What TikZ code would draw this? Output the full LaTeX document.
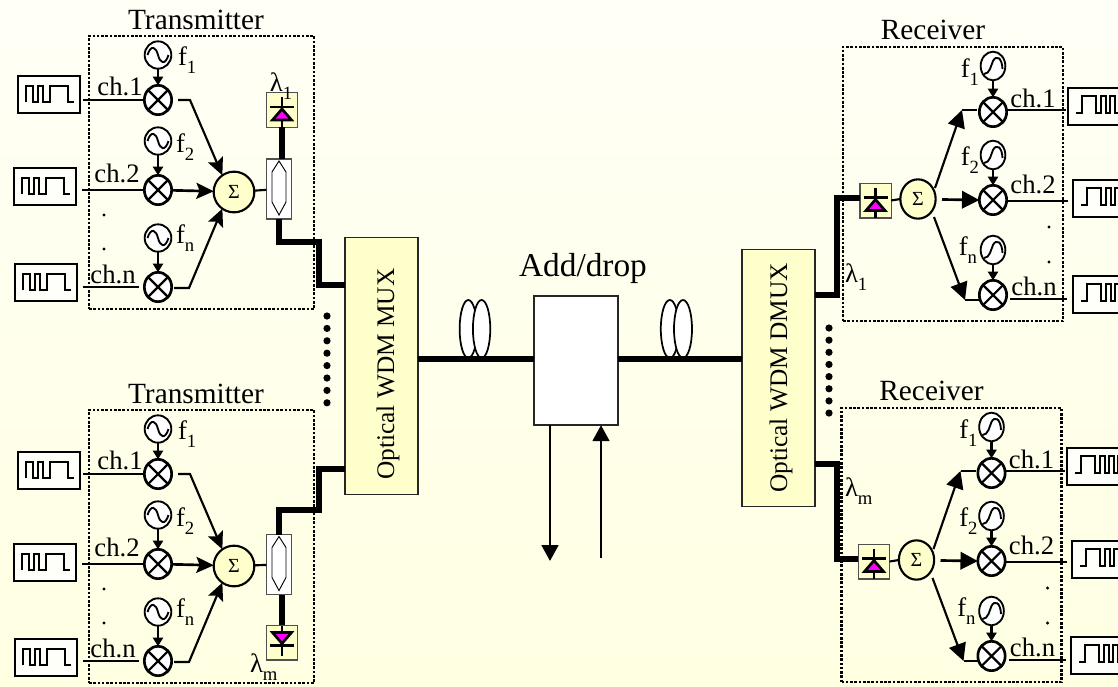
\documentclass[tikz,border=0pt]{standalone}
\usepackage{fontspec}
\setmainfont{Liberation Serif}
\usetikzlibrary{arrows.meta,shapes.geometric}
\definecolor{boxy}{HTML}{FFFFCC}
\definecolor{bgtop}{HTML}{FFFFF6}
\definecolor{bgbot}{HTML}{FFFFE2}
\definecolor{framegray}{HTML}{505050}
\definecolor{magi}{HTML}{FF00FF}
\newcommand\lowtxt[1]{\raisebox{-0.3em}{\fontsize{14}{15}\selectfont #1}}
\newcommand\pxfont[1]{\fontsize{#1}{#1}\selectfont}
\tikzset{
  x=0.75pt,y=-0.75pt,
  every node/.style={inner sep=0pt,outer sep=0pt},
  dotbox/.style={draw=black,line width=2pt,dash pattern=on 2pt off 1.2pt,fill=none},
  pulsebox/.style={draw=black,line width=1.3pt,fill=white!40!bgtop,anchor=north west,minimum width=46.5pt,minimum height=27.75pt},
  wave/.style={draw=black,line width=1.9pt,line join=miter},
  mixer/.style={ellipse,draw=black,line width=2pt,fill=white,minimum width=20.5pt,minimum height=22pt},
  crossl/.style={draw=black,line width=1.6pt},
  osc/.style={ellipse,draw=black,line width=1.4pt,fill=white,minimum width=20pt,minimum height=20.5pt},
  sumc/.style={circle,draw=black,line width=1.6pt,fill=boxy,minimum size=30.5pt,font=\pxfont{15}},
  sig/.style={draw=black,line width=2pt},
  sigthin/.style={draw=black,line width=1.6pt},
  fat/.style={draw=black,line width=3.8pt,line join=miter},
  bigarrow/.style={-{Stealth[length=13pt,width=12pt,inset=2.5pt]}},
  recarrow/.style={-{Triangle[length=13pt,width=13pt]}},
  smallarrow/.style={-{Triangle[length=6.5pt,width=7.5pt]}},
  ldbox/.style={draw=framegray,line width=1pt,fill=boxy,minimum width=23.5pt,minimum height=26pt},
  cplbox/.style={draw=framegray,line width=.9pt,fill=white,minimum width=19pt,minimum height=45pt},
  bar/.style={draw=black,line width=1.9pt},
  tri/.style={draw=black,line width=2pt,fill=magi,line join=miter},
  wdm/.style={draw=black!85,line width=1.2pt,fill=boxy,minimum width=54.5pt,minimum height=192.5pt},
  wdmtext/.style={font=\pxfont{19},rotate=90},
  title/.style={font=\pxfont{22}},
  lab/.style={font=\pxfont{20},anchor=base},
  labl/.style={font=\pxfont{20},anchor=base west},
  labr/.style={font=\pxfont{20},anchor=base east},
  dotn/.style={circle,fill=black,minimum size=5.4pt},
  dotm/.style={circle,fill=black,minimum size=2.6pt},
  coil/.style={ellipse,draw=black,line width=1.3pt,fill=white,minimum height=43.5pt},
}
% left pulse source
\newcommand\lpulse[3]{%
  \node[pulsebox] (#1) at (#2,#3) {};
  \draw[wave,shift={(#2,#3)}] (8,26) -- (8,10) -- (15,10) -- (15,26) -- (20,26) -- (20,10) -- (25,10) -- (25,26) -- (32,26) -- (32,10) -- (50,10) -- (50,26) -- (56,26);
}
% right pulse source
\newcommand\rpulse[3]{%
  \node[pulsebox,minimum width=60pt] (#1) at (#2,#3) {};
  \draw[wave,shift={(#2,#3)}] (8,25) -- (14,25) -- (14,8) -- (28,8) -- (28,25) -- (33,25) -- (33,8) -- (38,8) -- (38,25) -- (42,25) -- (42,8) -- (47,8) -- (47,25) -- (51,25) -- (51,8) -- (56,8);
}
\newcommand\mixernode[3]{%
  \node[mixer] (#1) at (#2,#3) {};
  \draw[crossl] (#1.45) -- (#1.225) (#1.135) -- (#1.315);
}
% transmitter oscillator: sine
\newcommand\oscT[3]{%
  \node[osc] (#1) at (#2,#3) {};
  \draw[line width=1.4pt,shift={(#2,#3)}] (-10.5,0) .. controls (-7,-11) and (-2,-8) .. (0,0) .. controls (2,8) and (7,11) .. (10.5,0);
}
% receiver oscillator: rising wave
\newcommand\oscR[3]{%
  \node[osc,minimum width=18.5pt,minimum height=21.5pt] (#1) at (#2,#3) {};
  \draw[line width=1.4pt,shift={(#2,#3)}] (-9,8) .. controls (-3,8) and (-2,-1) .. (0,-5) .. controls (3,-11) and (9,-9) .. (9.5,3);
}
% diode with triangle up (#4=1) or down (#4=-1); x,y = centre
\newcommand\diode[4]{%
  \node[ldbox] (#1) at (#2,#3) {};
  \begin{scope}[shift={(#2,#3)},yscale=#4]
    \draw[bar] (0,-13) -- (0,17);
    \draw[bar] (-12,-3) -- (12,-3);
    \draw[tri] (0,-1) -- (9.5,10) -- (-9.5,10) -- cycle;
  \end{scope}
}
\newcommand\coupler[3]{%
  \node[cplbox] (#1) at (#2,#3) {};
  \draw[line width=.7pt,fill=white,shift={(#2,#3)}] (0,-28) -- (7,-17) -- (7,13) -- (0,26) -- (-7,13) -- (-7,-17) -- cycle;
}
% #1 prefix, #2 y offset
\newcommand\transmitter[2]{%
\begin{scope}[shift={(0,#2)}]
  \node[dotbox,minimum width=168.75pt,minimum height=204.75pt,anchor=north west] (#1frame) at (89,36) {};
  \node[title] (#1title) at (196,20) {Transmitter};
  \mixernode{#1m1}{158}{100}
  \mixernode{#1m2}{158}{190}
  \mixernode{#1m3}{158}{287}
  \oscT{#1o1}{158}{55}
  \oscT{#1o2}{158}{141}
  \oscT{#1o3}{158}{238}
  \draw[sigthin,smallarrow] (#1o1) -- (#1m1);
  \draw[sigthin,smallarrow] (#1o2) -- (#1m2);
  \draw[sigthin,smallarrow] (#1o3) -- (#1m3);
  \node[labl] (#1f1) at (178,65) {f\lowtxt{1}};
  \node[labl] (#1f2) at (176,152) {f\lowtxt{2}};
  \node[labl] (#1f3) at (176,243) {f\lowtxt{n}};
  \node[lab] (#1c1) at (120,95) {ch.1};
  \node[lab] (#1c2) at (117,182) {ch.2};
  \node[lab] (#1c3) at (113,283) {ch.n};
  \node[sumc] (#1s) at (234,192) {Σ};
  \coordinate (#1k1) at (190,100);
  \coordinate (#1k3) at (189,288);
  \coordinate (#1i1) at (83,100);
  \coordinate (#1i2) at (82,190);
  \coordinate (#1i3) at (83,287);
  \draw[sig] (#1i1) -- (#1m1.west);
  \draw[sig] (#1i2) -- (#1m2.west);
  \draw[sig] (#1i3) -- (139,287);
  \draw[sigthin,bigarrow] (178,100) -- (#1k1) -- (#1s.125);
  \draw[sig,bigarrow] (#1m2) -- (#1s.178);
  \draw[sigthin,bigarrow] (174,288) -- (#1k3) -- (#1s.235);
  \node[dotm] (#1d1) at (104,215) {};
  \node[dotm] (#1d2) at (104,249) {};
\end{scope}
}
\newcommand\receiver[3]{%
\begin{scope}[shift={(#2,#3)}]
  \node[dotbox,minimum width=165pt,minimum height=205.5pt,anchor=north west] (#1frame) at (843,47) {};
  \node[title] (#1title) at (933,30) {Receiver};
  \mixernode{#1m1}{993}{112}
  \mixernode{#1m2}{993}{200}
  \mixernode{#1m3}{993}{295}
  \oscR{#1o1}{993}{66}
  \oscR{#1o2}{993}{155}
  \oscR{#1o3}{993}{250}
  \draw[sigthin,smallarrow] (#1o1) -- (#1m1);
  \draw[sigthin,smallarrow] (#1o2) -- (#1m2);
  \draw[sigthin,smallarrow] (#1o3) -- (#1m3);
  \node[labr] (#1f1) at (979,77) {f\lowtxt{1}};
  \node[labr] (#1f2) at (979,165) {f\lowtxt{2}};
  \node[labr] (#1f3) at (977,255) {f\lowtxt{n}};
  \node[lab] (#1c1) at (1033,107) {ch.1};
  \node[lab] (#1c2) at (1033,193) {ch.2};
  \node[lab] (#1c3) at (1034,295) {ch.n};
  \node[sumc,ellipse,minimum width=26.5pt,minimum height=29.5pt] (#1s) at (918,199) {Σ};
  \diode{#1ld}{875.5}{200.5}{1}
  \draw[sigthin] (#1ld.east) -- (#1s.west);
  \coordinate (#1k1) at (962,110);
  \coordinate (#1k3) at (965,300);
  \coordinate (#1t1) at (935,188);
  \coordinate (#1t3) at (934,217);
  \coordinate (#1t2) at (942,199.5);
  \draw[sig] (#1k1) -- (977,110);
  \draw[sigthin,recarrow] (#1t1) -- (#1k1);
  \draw[sig,recarrow] (#1t2) -- (#1m2.west);
  \draw[sig] (#1k3) -- (980,300);
  \draw[sigthin,recarrow] (#1t3) -- (#1k3);
  \coordinate (#1o1e) at (1066,110);
  \coordinate (#1o2e) at (1068,201);
  \coordinate (#1o3e) at (1067,299);
  \draw[sig] (#1m1.east) ++(0,-2) -- (#1o1e);
  \draw[sig] (#1m2.east) ++(0,1) -- (#1o2e);
  \draw[sig] (1010,299) -- (#1o3e);
  \node[dotm] (#1d1) at (1049,227) {};
  \node[dotm] (#1d2) at (1049,262) {};
\end{scope}
}
\begin{document}
\begin{tikzpicture}
\path[use as bounding box,clip] (0,0) rectangle (1118,686);
\shade[top color=bgtop,bottom color=bgbot] (0,0) rectangle (1118,686);

% optical blocks
\node[wdm] (mux) at (381.5,366) {};
\node[wdm] (dmux) at (778.5,378) {};
\node[wdmtext] (muxt) at (388,374) {Optical WDM MUX};
\node[wdmtext] (dmuxt) at (781,378) {Optical WDM DMUX};
\node[draw=black!85,line width=1.2pt,fill=white,minimum width=63pt,minimum height=97pt] (adm) at (576,360.5) {};
\node[font=\pxfont{25}] (admt) at (583,268) {Add/drop};

% fibre spans and coils
\node[coil,minimum width=13pt] (c1) at (468.3,329) {};
\node[coil,minimum width=13pt] (c2) at (481.6,329) {};
\node[coil,minimum width=13.5pt] (c3) at (669.8,329) {};
\node[coil,minimum width=13.5pt] (c4) at (683,329) {};
\draw[fat] (mux.east |- 0,359) -- (adm.west |- 0,359);
\draw[fat] (adm.east |- 0,359) -- (dmux.west |- 0,359);

% add / drop
\coordinate (dropend) at (550,561);
\coordinate (addstart) at (601,558);
\draw[sig,line width=2.1pt,-{Triangle[length=12pt,width=12.5pt]}] (adm.south -| dropend) -- (dropend);
\draw[sig,line width=2.1pt,-{Triangle[length=12pt,width=12.5pt]}] (addstart) -- (adm.south -| addstart);

% transmitters
\transmitter{ta}{0}
\transmitter{tb}{374}
\lpulse{ta1}{18}{76}
\lpulse{ta2}{14}{168}
\lpulse{ta3}{15}{264}
\lpulse{tb1}{18}{452}
\lpulse{tb2}{14}{544}
\lpulse{tb3}{15}{639}

% top transmitter optics
\coupler{tacp}{279}{189}
\diode{tald}{282}{110}{1}
\draw[sigthin] (tas) -- (tacp);
\draw[fat] (tald.south) -- (tald.south |- tacp.north);
\coordinate (taj1) at (279,242);
\coordinate (taj2) at (319,242);
\coordinate (taj3) at (319,285);
\draw[fat] (279,219) -- (taj1) -- (taj2) -- (taj3) -- (taj3 -| mux.west);
\node[lab] (tal) at (281,91) {λ\lowtxt{1}};

% bottom transmitter optics
\coupler{tbcp}{279}{564.5}
\diode{tbld}{282}{642.5}{-1}
\draw[sigthin] (tbs) -- (tbcp);
\draw[fat] (tbld.north) -- (tbld.north |- tbcp.south);
\coordinate (tbj1) at (279,510);
\coordinate (tbj2) at (319,510);
\coordinate (tbj3) at (319,469);
\draw[fat] (279,535) -- (tbj1) -- (tbj2) -- (tbj3) -- (tbj3 -| mux.west);
\node[labl] (tbl) at (250,672) {λ\lowtxt{m}};

% receivers
\receiver{ra}{0}{0}
\receiver{rb}{-1.5}{361}
\rpulse{ra1}{1068}{88}
\rpulse{ra2}{1073}{180}
\rpulse{ra3}{1073}{276}
\rpulse{rb1}{1067}{448}
\rpulse{rb2}{1072}{541}
\rpulse{rb3}{1071}{637}
\coordinate (raj1) at (837,295);
\coordinate (raj2) at (837,198);
\draw[fat] (raj1 -| dmux.east) -- (raj1) -- (raj2) -- (raj2 -| rald.west);
\coordinate (rbj1) at (837,464);
\coordinate (rbj2) at (837,559);
\draw[fat] (rbj1 -| dmux.east) -- (rbj1) -- (rbj2) -- (rbj2 -| rbld.west);
\node[labl] (ral) at (845,282) {λ\lowtxt{1}};
\node[labl] (rbl) at (845,496) {λ\lowtxt{m}};

% dots
\foreach \i in {0,...,7} {
  \node[dotn] (mdot\i) at (327,316+\i*12.4) {};
  \node[dotn] (ddot\i) at (829,328+\i*12.15) {};
}
\end{tikzpicture}
\end{document}
